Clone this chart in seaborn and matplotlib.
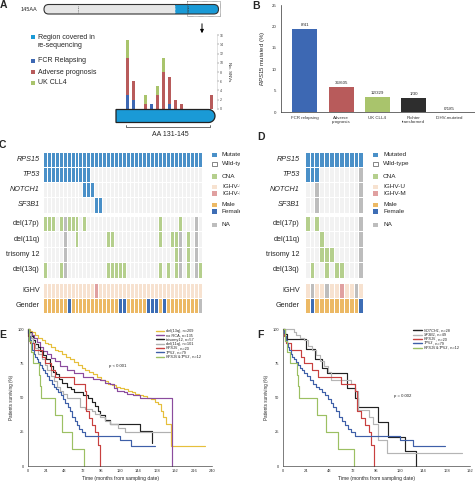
import numpy as np
import pandas as pd
import matplotlib
matplotlib.use("Agg")
import matplotlib.pyplot as plt
import seaborn as sns
from matplotlib.colors import ListedColormap
from matplotlib.patches import FancyBboxPatch, Rectangle, Polygon

sns.set_theme(style="white")
plt.rcParams['font.family'] = ['Liberation Sans', 'DejaVu Sans']
plt.rcParams['mathtext.fontset'] = 'custom'
plt.rcParams['mathtext.rm'] = 'Liberation Sans'
plt.rcParams['mathtext.it'] = 'Liberation Sans:italic'
plt.rcParams['patch.force_edgecolor'] = False

# ---------------- DATA ----------------
# Panel A: SNVs per amino acid position (131-145)
aa_positions = [str(i) for i in range(131, 146)]
snv_fcr = [3, 2, 0, 0, 1, 0, 0, 1, 0, 0, 0, 0, 0, 0, 0]
snv_adverse = [8, 4, 0, 1, 0, 3, 8, 6, 2, 1, 0, 0, 0, 0, 3]
snv_ukcll4 = [4, 0, 0, 2, 0, 2, 3, 0, 0, 0, 0, 0, 0, 0, 0]
a_snv_ticks = [0, 2, 4, 6, 8, 10, 12, 14, 16]

# Panel B
cohorts = ["FCR relapsing", "Adverse\nprognosis", "UK CLL4", "Richter\ntransformed", "IGHV-mutated"]
mutated_n = [8, 36, 12, 1, 0]
cohort_n = [41, 605, 329, 30, 185]
b_yticks = [0, 5, 10, 15, 20, 25]

# Panel C (40 patients) - column indices
C_ncol = 40
C_tp53 = list(range(12))
C_notch1 = [10, 11, 12]
C_sf3b1 = [13, 14]
C_del17p = [0, 1, 2, 4, 6, 7, 8, 10, 29, 34]
C_del17p_na = [5, 38]
C_del11q = [8, 16, 17, 29, 32, 33, 36]
C_del11q_na = [5, 34, 38]
C_tri12 = [33, 36]
C_tri12_na = [5, 34, 38]
C_del13q = [0, 4, 16, 17, 18, 19, 20, 29, 31, 33, 36, 39]
C_del13q_na = [5, 34, 38]
C_ighv_m = [13]
C_female = [6, 19, 20, 26, 27, 28, 30]
C_gender_na = [39]

# Panel D (12 patients)
D_ncol = 12
D_tp53 = [0, 1, 2]
D_tp53_na = [11]
D_notch1_na = [2, 11]
D_sf3b1_na = [2, 11]
D_del17p = [0, 2]
D_del11q = [3]
D_tri12 = [3, 4, 5]
D_del13q = [1, 4, 6, 7]
D_cna_na = [11]
D_ighv_m = [7]
D_ighv_na = [1, 4, 10]
D_female = [1, 11]

gene_rows = ["RPS15", "TP53", "NOTCH1", "SF3B1"]
cna_rows = ["del(17p)", "del(11q)", "trisomy 12", "del(13q)"]
clin_rows = ["IGHV", "Gender"]
legend_labels = ["Mutated", "Wild-type", "CNA", "IGHV-U", "IGHV-M", "Male", "Female", "NA"]

# Panel E survival curves (months, % surviving)
E_del13q_t = [0, 3, 6, 10, 14, 18, 22, 26, 30, 35, 40, 45, 50, 55, 60, 65, 70, 75, 80, 85, 90, 95, 100, 105, 110, 115, 120, 125, 130, 135, 140, 145, 150, 155, 160, 165, 170, 173, 176, 180, 186, 231]
E_del13q_s = [100, 99, 98, 96, 94, 92, 90, 89, 87, 85, 84, 82, 80, 78, 76, 74, 72, 70, 69, 67, 65, 63, 62, 60, 59, 58, 57, 56, 55, 54, 53, 52, 51, 50, 49, 47, 45, 40, 36, 31, 14.7, 14.7]
E_norca_t = [0, 2, 5, 8, 12, 16, 20, 25, 30, 35, 42, 51, 60, 72, 85, 94, 100, 107, 112, 116, 125, 129, 137, 146, 187]
E_norca_s = [100, 98, 96, 94, 91, 87, 84, 82, 79, 77, 73, 70, 68, 65, 64, 63, 61, 60, 57, 55, 54, 53, 52, 50, 0]
E_tri12_t = [0, 2, 4, 7, 10, 13, 16, 20, 24, 29, 33, 37, 41, 45, 51, 56, 60, 72, 78, 83, 87, 91, 94, 100, 107, 146, 161]
E_tri12_s = [100, 98, 95, 92, 89, 87, 84, 81, 78, 73, 69, 67, 64, 61, 58, 56, 54, 52, 50, 47, 44, 40, 37, 34, 31, 25.5, 16.7]
E_del11q_t = [0, 2, 4, 7, 10, 14, 18, 22, 25, 30, 34, 38, 42, 46, 51, 68, 75, 83, 87, 94, 100, 107, 118, 127, 185]
E_del11q_s = [100, 97, 94, 90, 86, 82, 78, 74, 70, 66, 62, 58, 55, 53, 49.5, 43, 42, 40, 38, 36, 33, 31, 28, 25, 25]
RPS15_t = [0, 1, 3, 8, 19, 22, 30, 36, 60, 74, 76, 80, 84, 88, 91, 94]
RPS15_s = [100, 95, 90, 85, 80, 75, 70, 65, 60, 55, 40, 35, 30, 25, 15, 0]
TP53_t = [0, 1, 2, 3, 4, 5, 6, 8, 10, 12, 14, 16, 18, 20, 22, 25, 28, 31, 34, 37, 40, 43, 46, 49, 52, 55, 58, 61, 64, 67, 70, 74, 120, 134, 166]
TP53_s = [100, 97, 95, 92, 90, 87, 85, 82, 80, 78, 76, 74, 72, 70, 68, 66, 63, 60, 58, 56, 54, 52, 49, 46, 43, 40, 36, 33, 30, 27, 25, 22, 19, 14.7, 14.7]
BOTH_t = [0, 2, 4, 7, 15, 16, 17, 35, 44, 57, 73]
BOTH_s = [100, 91.7, 83.3, 75, 66.7, 58.3, 50, 37.5, 25, 12.5, 0]
# Panel F extra curves
F_notch1_t = [0, 2, 4, 24, 33, 40, 45, 66, 74, 77, 98, 108, 125, 137]
F_notch1_s = [100, 96.4, 92.9, 85.7, 78.6, 71.4, 67.9, 57.1, 50, 42.9, 32.1, 21.4, 10.7, 0]
F_sf3b1_t = [0, 12, 14, 18, 22, 26, 30, 34, 38, 42, 46, 50, 70, 74, 77, 88, 93, 98, 107, 184]
F_sf3b1_s = [100, 98, 96, 94, 92, 88, 85, 81, 77, 73, 69, 63, 60, 55, 41, 36, 31, 19, 9.8, 9.8]

# legend labels as (text, italic) parts
E_label_parts = [[("del(13q), n=209", False)], [("no RCA, n=135", False)], [("trisomy12, n=57", False)],
                 [("del(11q), n=101", False)], [("RPS15", True), (", n=20", False)],
                 [("TP53", True), (", n=79", False)],
                 [("RPS15", True), ("&", False), ("TP53", True), (", n=12", False)]]
F_label_parts = [[("NOTCH1", True), (", n=28", False)], [("SF3B1", True), (", n=49", False)],
                 [("RPS15", True), (", n=20", False)], [("TP53", True), (", n=79", False)],
                 [("RPS15", True), ("&", False), ("TP53", True), (", n=12", False)]]
E_labels = ["".join(p for p, _ in parts) for parts in E_label_parts]
F_labels = ["".join(p for p, _ in parts) for parts in F_label_parts]

# ---------------- STYLE ----------------
c_region = "#1a9ad6"
c_fcr = "#3d68b3"
c_adv = "#b85b5b"
c_uk = "#a9c46c"
c_richter = "#2e2e2e"
heat_colors = ["#f2f2f2", "#4a90c8", "#b5cf8d", "#bdbdbd", "#f7e2d0", "#e0a0a0", "#ecb965", "#3d6db5"]
km_E_colors = ["#e6bf3c", "#8b4c9e", "#222222", "#b0b0b0", "#c8403f", "#3e5fa8", "#9cc063"]
km_F_colors = ["#222222", "#b5b5b5", "#c8403f", "#3e5fa8", "#9cc063"]

W, H = 475, 482
fig = plt.figure(figsize=(W / 100, H / 100), dpi=100)
fig.patch.set_facecolor("white")
renderer = fig.canvas.get_renderer()


def add_ax(x0, y0, x1, y1, **kw):
    return fig.add_axes([x0 / W, 1 - y1 / H, (x1 - x0) / W, (y1 - y0) / H], **kw)


ov = add_ax(0, 0, W, H)
ov.set_xlim(0, W)
ov.set_ylim(H, 0)
ov.axis("off")
ov.set_zorder(5)


def rich_text(x, y, parts, fs):
    for s, it in parts:
        t = ov.text(x, y, s, fontsize=fs, ha="left", va="baseline",
                    fontstyle="italic" if it else "normal")
        x += t.get_window_extent(renderer).width


# panel letters
for lab, x, y in [("A", 3, 5.5), ("B", 256.5, 6), ("C", 2.5, 145), ("D", 261, 137.5), ("E", 3, 335), ("F", 260, 335.5)]:
    ov.text(x, y, lab, fontsize=7.5, fontweight="bold", ha="center", va="center")

# ---------------- PANEL A ----------------
ov.text(21, 9.5, "145AA", fontsize=4, ha="left", va="center")
ov.add_patch(FancyBboxPatch((44, 4.5), 174.5, 9.5, boxstyle="round,pad=0,rounding_size=4.7",
                            fc="#e6e6e6", ec="none", lw=0))
ov.add_patch(FancyBboxPatch((175, 4.5), 43.5, 9.5, boxstyle="round,pad=0,rounding_size=4.7",
                            fc=c_region, ec="none", lw=0))
ov.add_patch(Rectangle((175, 4.5), 6, 9.5, fc=c_region, ec="none", lw=0))
ov.add_patch(FancyBboxPatch((44, 4.5), 174.5, 9.5, boxstyle="round,pad=0,rounding_size=4.7",
                            fc="none", ec="#333333", lw=0.8))
ov.plot([78, 78], [5.5, 13], color="#555555", lw=0.5, ls=(0, (1.2, 1.2)))
ov.plot([174.5, 174.5], [5.5, 13], color="#dddddd", lw=0.5, ls=(0, (1, 1)))
ov.plot([187.7, 187.7], [5.5, 13], color="#333333", lw=0.5, ls=(0, (1.2, 1.2)))
ov.add_patch(Rectangle((187.3, 1.2), 32.5, 15, fill=False, ec="#444444", lw=0.5, ls=(0, (0.8, 0.8))))
ov.annotate("", xy=(202, 36), xytext=(202, 21),
            arrowprops=dict(arrowstyle="-|>", color="black", lw=0.7, mutation_scale=5))

a_leg = [("Region covered in\nre-sequencing", c_region, 41.5), ("FCR Relapsing", c_fcr, 61),
         ("Adverse prognosis", c_adv, 72), ("UK CLL4", c_uk, 83)]
for txt, col, y in a_leg:
    yy = y - 4.5 if "\n" in txt else y
    ov.add_patch(Rectangle((30.8, yy - 1.9), 3.8, 3.8, fc=col, ec="none", lw=0))
    ov.text(37.5, y, txt, fontsize=5, ha="left", va="center", linespacing=1.25)

axA = add_ax(124.7, 35.3, 216.5, 108.7)
df_a = pd.DataFrame({"pos": aa_positions, "fcr": snv_fcr, "adv": snv_adverse, "uk": snv_ukcll4})
df_a["total"] = df_a["fcr"] + df_a["adv"] + df_a["uk"]
df_a["fcr_adv"] = df_a["fcr"] + df_a["adv"]
for col, c in [("total", c_uk), ("fcr_adv", c_adv), ("fcr", c_fcr)]:
    sns.barplot(data=df_a, x="pos", y=col, color=c, width=0.55, saturation=1, ax=axA, errorbar=None,
                linewidth=0, edgecolor="none")
axA.set_xlim(-0.5, 14.8)
axA.set_ylim(0, 16)
axA.set_facecolor("none")
axA.set_xticks([])
axA.set_xlabel("")
axA.yaxis.tick_right()
axA.yaxis.set_label_position("right")
axA.set_yticks(a_snv_ticks)
axA.tick_params(axis="y", labelsize=2.6, length=1.2, width=0.3, pad=1.2, colors="#444444")
axA.set_ylabel("No. SNVs", rotation=270, fontsize=3.2, labelpad=5)
for s in ["left", "top", "bottom"]:
    axA.spines[s].set_visible(False)
axA.spines["right"].set_color("#cccccc")
axA.spines["right"].set_linewidth(0.4)

# bottom blue protein piece (square left end, rounded right end)
x0b, x1b, y0b, y1b = 116, 215, 109.5, 122.5
r = (y1b - y0b) / 2
pts = [(x0b, y1b), (x1b - r, y1b)] + \
      [(x1b - r + r * np.cos(a), (y0b + y1b) / 2 - r * np.sin(a)) for a in np.linspace(-np.pi / 2, np.pi / 2, 40)] + \
      [(x0b, y0b)]
ov.add_patch(Polygon(pts, closed=True, fc=c_region, ec="#222222", lw=0.9))
ov.plot([126, 126, 210, 210], [125.3, 127.2, 127.2, 125.3], color="#333333", lw=0.5)
ov.text(170, 134.5, "AA 131-145", fontsize=5, ha="center", va="center")

# ---------------- PANEL B ----------------
axB = add_ax(280.7, 5, 475, 112.3)
pct = [100 * m / n for m, n in zip(mutated_n, cohort_n)]
df_b = pd.DataFrame({"cohort": cohorts, "pct": pct})
sns.barplot(data=df_b, x="cohort", y="pct", hue="cohort", palette=[c_fcr, c_adv, c_uk, c_richter, "#888888"],
            width=0.69, saturation=1, legend=False, ax=axB, errorbar=None, linewidth=0, edgecolor="none")
axB.set_xlim(-0.67, 4.7)
axB.set_ylim(0, 25)
axB.set_yticks(b_yticks)
axB.set_xlabel("")
axB.set_ylabel(r"$\it{RPS15}$ mutated (%)", fontsize=4.3, labelpad=3)
axB.tick_params(axis="both", labelsize=3.2, length=1.5, width=0.4, pad=1.5, colors="#333333")
axB.tick_params(axis="x", length=0, pad=2.5)
for lbl in axB.get_xticklabels():
    lbl.set_linespacing(1.1)
sns.despine(ax=axB)
for s in ["left", "bottom"]:
    axB.spines[s].set_linewidth(0.5)
    axB.spines[s].set_color("#333333")
for i, (m, n, p) in enumerate(zip(mutated_n, cohort_n, pct)):
    axB.text(i, p + 0.4, f"{m}/{n}", fontsize=3.2, ha="center", va="bottom")

# ---------------- PANELS C / D ----------------
cmap = ListedColormap(heat_colors)


def make_row(n, on, code, na=(), base=0):
    row = [base] * n
    for i in on:
        row[i] = code
    for i in na:
        row[i] = 3
    return row


C_gene_mat = pd.DataFrame([make_row(C_ncol, range(C_ncol), 1), make_row(C_ncol, C_tp53, 1),
                           make_row(C_ncol, C_notch1, 1), make_row(C_ncol, C_sf3b1, 1)], index=gene_rows)
C_cna_mat = pd.DataFrame([make_row(C_ncol, C_del17p, 2, C_del17p_na), make_row(C_ncol, C_del11q, 2, C_del11q_na),
                          make_row(C_ncol, C_tri12, 2, C_tri12_na), make_row(C_ncol, C_del13q, 2, C_del13q_na)],
                         index=cna_rows)
C_clin_mat = pd.DataFrame([make_row(C_ncol, C_ighv_m, 5, base=4), make_row(C_ncol, C_female, 7, C_gender_na, base=6)],
                          index=clin_rows)

D_gene_mat = pd.DataFrame([make_row(D_ncol, range(D_ncol), 1), make_row(D_ncol, D_tp53, 1, D_tp53_na),
                           make_row(D_ncol, [], 1, D_notch1_na), make_row(D_ncol, [], 1, D_sf3b1_na)], index=gene_rows)
D_cna_mat = pd.DataFrame([make_row(D_ncol, D_del17p, 2, D_cna_na), make_row(D_ncol, D_del11q, 2, D_cna_na),
                          make_row(D_ncol, D_tri12, 2, D_cna_na), make_row(D_ncol, D_del13q, 2, D_cna_na)],
                         index=cna_rows)
D_clin_mat = pd.DataFrame([make_row(D_ncol, D_ighv_m, 5, D_ighv_na, base=4), make_row(D_ncol, D_female, 7, base=6)],
                          index=clin_rows)

row_blocks = [(151.5, 212.5), (216, 277.5), (282.5, 313)]


def draw_onco(x0, x1, mats, pad):
    for (y0, y1), mat in zip(row_blocks, mats):
        ax = add_ax(x0, y0, x1, y1)
        sns.heatmap(mat, cmap=cmap, vmin=-0.5, vmax=7.5, cbar=False, linewidths=0.45, linecolor="white",
                    xticklabels=False, yticklabels=True, ax=ax)
        ax.tick_params(axis="y", length=0, pad=pad, labelsize=5.2)
        for t in ax.get_yticklabels():
            t.set_rotation(0)
            if t.get_text() in gene_rows:
                t.set_fontstyle("italic")
        ax.set_xlabel("")
        ax.set_ylabel("")


draw_onco(42.7, 201.7, [C_gene_mat, C_cna_mat, C_clin_mat], 2.2)
draw_onco(304.7, 363.3, [D_gene_mat, D_cna_mat, D_clin_mat], 3.5)

leg_y = [155, 164, 176.7, 187, 193.5, 205, 211.7, 225]
leg_codes = [1, 0, 2, 4, 5, 6, 7, 3]
axCL = add_ax(205, 140, 240, 240)
axCL.set_xlim(205, 240)
axCL.set_ylim(240, 140)
axCL.axis("off")
for lab, y, code in zip(legend_labels, leg_y, leg_codes):
    for ax, xs0 in [(axCL, 212), (ov, 373)]:
        if code == 0:
            ax.add_patch(Rectangle((xs0 + 0.3, y - 2.2), 4.2, 4.2, fc="white", ec="#555555", lw=0.5))
        else:
            ax.add_patch(Rectangle((xs0, y - 2.4), 4.8, 4.8, fc=heat_colors[code], ec="none", lw=0))
        t = ax.text(xs0 + 10, y, lab, fontsize=4.6, ha="left", va="center")
        if ax is axCL:
            t.set_clip_on(True)
            t.set_clip_box(axCL.bbox)

# ---------------- PANELS E / F ----------------
def km_frame(curves, labels):
    frames = []
    for (t, s), lab in zip(curves, labels):
        frames.append(pd.DataFrame({"time": t, "surv": s, "group": lab}))
    return pd.concat(frames, ignore_index=True)


def style_km(ax, xmax):
    ax.set_xlim(0, xmax)
    ax.set_ylim(0, 100)
    ax.set_xticks(list(range(0, xmax + 1, 24)))
    ax.set_yticks([0, 25, 50, 75, 100])
    ax.tick_params(axis="both", labelsize=2.9, length=1.3, width=0.35, pad=1.2, colors="#333333")
    ax.set_xlabel("Time (months from sampling date)", fontsize=3.6, labelpad=1.5)
    ax.set_ylabel("Patients surviving (%)", fontsize=3.3, labelpad=3)
    sns.despine(ax=ax)
    for s in ["left", "bottom"]:
        ax.spines[s].set_linewidth(0.45)
        ax.spines[s].set_color("#333333")
    for ln in ax.lines:
        ln.set_clip_on(False)
    ax.set_facecolor("none")


E_curves = [(E_del13q_t, E_del13q_s), (E_norca_t, E_norca_s), (E_tri12_t, E_tri12_s), (E_del11q_t, E_del11q_s),
            (RPS15_t, RPS15_s), (TP53_t, TP53_s), (BOTH_t, BOTH_s)]
axE = add_ax(27.7, 329.3, 212.3, 466)
dfE = km_frame(E_curves, E_labels)
sns.lineplot(data=dfE, x="time", y="surv", hue="group", hue_order=E_labels, palette=km_E_colors,
             drawstyle="steps-post", estimator=None, sort=False, legend=False, lw=0.85, ax=axE)
style_km(axE, 240)

F_curves = [(F_notch1_t, F_notch1_s), (F_sf3b1_t, F_sf3b1_s), (RPS15_t, RPS15_s), (TP53_t, TP53_s), (BOTH_t, BOTH_s)]
axF = add_ax(282.7, 329.3, 470, 466)
dfF = km_frame(F_curves, F_labels)
sns.lineplot(data=dfF, x="time", y="surv", hue="group", hue_order=F_labels, palette=km_F_colors,
             drawstyle="steps-post", estimator=None, sort=False, legend=False, lw=0.85, ax=axF)
style_km(axF, 192)

for i, (parts, col) in enumerate(zip(E_label_parts, km_E_colors)):
    y = 330.7 + 4.3 * i
    ov.plot([156, 163.5], [y, y], color=col, lw=1.0)
    rich_text(165.5, y + 1.3, parts, 2.8)
for i, (parts, col) in enumerate(zip(F_label_parts, km_F_colors)):
    y = 330.3 + 4.3 * i
    ov.plot([413, 421.5], [y, y], color=col, lw=1.0)
    rich_text(423.5, y + 1.3, parts, 2.8)
ov.text(117.5, 366, "p < 0.001", fontsize=3.1, ha="center", va="center")
ov.text(402.5, 395.7, "p = 0.002", fontsize=3.1, ha="center", va="center")

fig.savefig("out.png", dpi=100)
